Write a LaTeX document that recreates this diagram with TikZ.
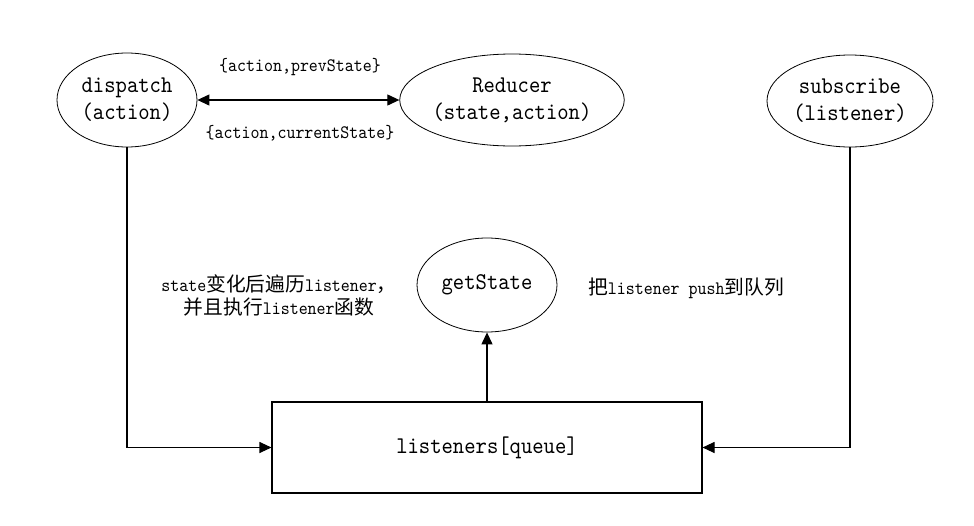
\documentclass[tikz,border=0pt]{standalone}
\usepackage{fontspec}
\newfontfamily\lmm{lmmono10-regular.otf}[FakeStretch=0.9]
\newfontfamily\cjk{Noto Sans CJK SC}[Scale=1.04]
\usetikzlibrary{shapes.geometric,arrows.meta}
\newcommand\bigfnt{\lmm\fontsize{24}{27}\selectfont}
\newcommand\smallfnt{\lmm\fontsize{19}{23}\selectfont}
\tikzset{
  ell/.style={draw, ellipse, line width=0.8pt, inner sep=0pt, font=\bigfnt, align=center},
  boxnode/.style={draw, rectangle, line width=1.1pt, inner sep=0pt, font=\bigfnt},
  lbl/.style={font=\smallfnt, align=center, inner sep=0pt},
  conn/.style={line width=1.1pt},
  tip/.tip={Triangle[length=12pt,width=11pt]}
}
\begin{document}
\begin{tikzpicture}[x=1pt,y=-1pt]
\useasboundingbox (0,0) rectangle (974,525);
\fill[white] (0,0) rectangle (974,525);

\node[ell, minimum width=140, minimum height=94] (dispatch) at (127,100) {dispatch\\(action)};
\node[ell, minimum width=215, minimum height=92] (reducer) at (512,100) {Reducer\\(state,action)};
\node[ell, minimum width=166, minimum height=92] (subscribe) at (850,101) {subscribe\\(listener)};
\node[ell, minimum width=140, minimum height=94] (getstate) at (487,285) {getState};
\node[boxnode, minimum width=430, minimum height=91] (box) at (487,447.5) {listeners[queue]};

\node[lbl] (prev) at (300,67) {\{action,prevState\}};
\node[lbl] (curr) at (300,133) {\{action,currentState\}};
\node[lbl] (lefttext) at (279,295) {state{\cjk 变化后遍历}listener{\cjk ，}\\{\cjk 并且执行}listener{\cjk 函数}};
\node[lbl] (righttext) at (686,288) {{\cjk 把}listener push{\cjk 到队列}};

\draw[conn, tip-tip] (dispatch.east) -- (reducer.west);
\draw[conn, -tip] (dispatch.south) |- (box.west);
\draw[conn, -tip] (subscribe.south) |- (box.east);
\draw[conn, -tip] (box.north) -- (getstate.south);
\end{tikzpicture}
\end{document}
